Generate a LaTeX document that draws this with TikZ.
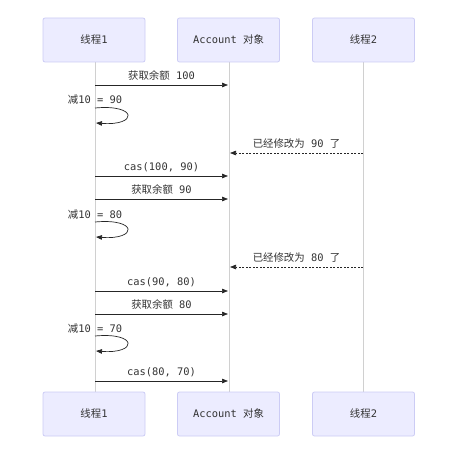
\documentclass[tikz,border=0pt]{standalone}
\usepackage{fontspec}
\setmainfont{DejaVu Sans Mono}
\newfontfamily\cjk{Noto Sans CJK SC}
\usetikzlibrary{arrows.meta}
\definecolor{boxfill}{HTML}{ECECFF}
\definecolor{boxline}{HTML}{CCCCF5}
\definecolor{lifeline}{HTML}{D0D0D0}
\definecolor{txt}{HTML}{333333}
\tikzset{
  actor/.style={draw=boxline, fill=boxfill, rounded corners=2pt, minimum width=102pt, minimum height=44pt, inner sep=0pt, text=txt, font=\fontsize{10.4}{12}\selectfont, line width=0.8pt},
  msg/.style={draw=black!85, line width=0.7pt, -{Triangle[length=6pt,width=4.5pt]}},
  reply/.style={msg, dashed, dash pattern=on 2pt off 1.5pt},
  lbl/.style={text=txt, font=\fontsize{10.4}{12}\selectfont, inner sep=0pt, anchor=base},
  life/.style={draw=lifeline, line width=0.8pt}
}
\begin{document}
\begin{tikzpicture}[x=1pt,y=-1pt]
\useasboundingbox (0,0) rectangle (462,457);
% lifelines
\coordinate (l1t) at (95,62); \coordinate (l1b) at (95,392);
\coordinate (l2t) at (229,62); \coordinate (l2b) at (229,392);
\coordinate (l3t) at (363,62); \coordinate (l3b) at (363,392);
\draw[life] (l1t) -- (l1b);
\draw[life] (l2t) -- (l2b);
\draw[life] (l3t) -- (l3b);
% actors
\node[actor] (t1) at (94,40) {{\cjk 线程}1};
\node[actor] (acc) at (228.5,40) {Account {\cjk 对象}};
\node[actor] (t2) at (363.5,40) {{\cjk 线程}2};
\node[actor] (t1b) at (94,414) {{\cjk 线程}1};
\node[actor] (accb) at (228.5,414) {Account {\cjk 对象}};
\node[actor] (t2b) at (363.5,414) {{\cjk 线程}2};
% message coordinates
\foreach \n/\y in {m1/85, m3/176, m4/199, m6/291, m7/314, m9/381} {
  \coordinate (\n s) at (95,\y);
  \coordinate (\n e) at (228,\y);
}
\foreach \n/\y in {m2/153, m5/267} {
  \coordinate (\n s) at (363,\y);
  \coordinate (\n e) at (230,\y);
}
% messages
\draw[msg] (m1s) -- (m1e) node[lbl, midway, above=4pt] {{\cjk 获取余额} 100};
\draw[reply] (m2s) -- (m2e) node[lbl, midway, above=4pt] {{\cjk 已经修改为} 90 {\cjk 了}};
\draw[msg] (m3s) -- (m3e) node[lbl, midway, above=4pt] {cas(100, 90)};
\draw[msg] (m4s) -- (m4e) node[lbl, midway, above=4pt] {{\cjk 获取余额} 90};
\draw[reply] (m5s) -- (m5e) node[lbl, midway, above=4pt] {{\cjk 已经修改为} 80 {\cjk 了}};
\draw[msg] (m6s) -- (m6e) node[lbl, midway, above=4pt] {cas(90, 80)};
\draw[msg] (m7s) -- (m7e) node[lbl, midway, above=4pt] {{\cjk 获取余额} 80};
\draw[msg] (m9s) -- (m9e) node[lbl, midway, above=4pt] {cas(80, 70)};
% self loops
\foreach \n/\y/\t in {s1/108/90, s2/222/80, s3/336/70} {
  \coordinate (\n s) at (95,\y);
  \coordinate (\n e) at (96,\y+15);
  \node[lbl, anchor=base] (\n l) at (95,\y-4) {{\cjk 减}10 = \t};
  \draw[msg] (\n s) .. controls (138,\y-4) and (138,\y+18) .. (\n e);
}
\end{tikzpicture}
\end{document}
